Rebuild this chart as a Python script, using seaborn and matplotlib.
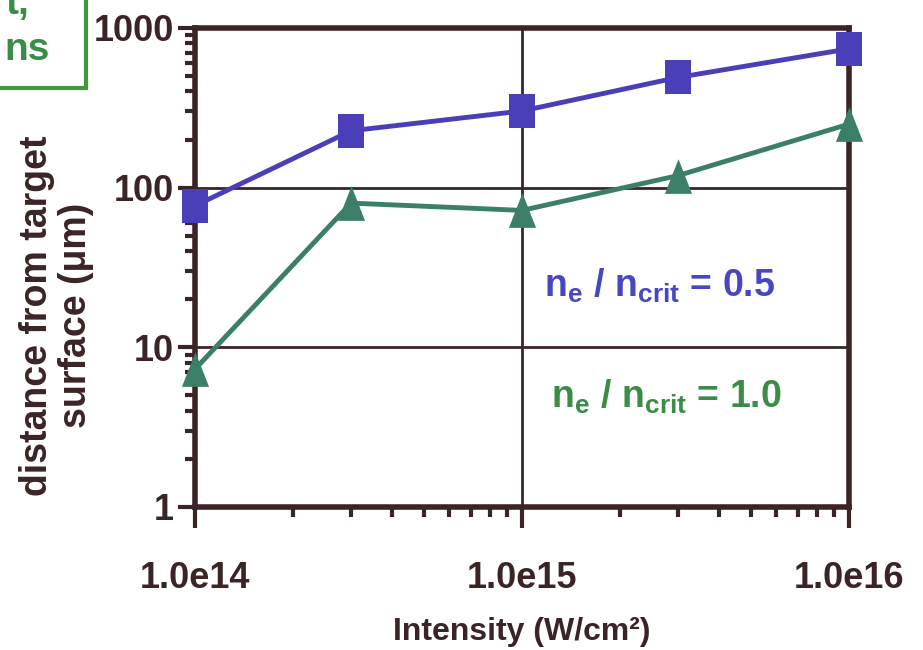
import matplotlib
matplotlib.use("Agg")
import matplotlib.pyplot as plt
import seaborn as sns
import pandas as pd
from matplotlib.patches import Rectangle
from matplotlib.path import Path
from matplotlib.ticker import LogLocator, FixedLocator, NullFormatter

intensity = [1e14, 3e14, 1e15, 3e15, 1e16]
dist_half = [77, 227, 302, 490, 740]
dist_one = [7.3, 80, 72, 119, 250]
series_names = ["ne/ncrit=0.5", "ne/ncrit=1.0"]
x_ticks = [1e14, 1e15, 1e16]
x_ticklabels = ["1.0e14", "1.0e15", "1.0e16"]
y_ticks = [1, 10, 100, 1000]
y_ticklabels = ["1", "10", "100", "1000"]

sns.set_style("white")
plt.rcParams["font.family"] = ["Liberation Sans", "DejaVu Sans"]
plt.rcParams["font.weight"] = "bold"
plt.rcParams["mathtext.fontset"] = "custom"
plt.rcParams["mathtext.rm"] = "Liberation Sans:bold"
plt.rcParams["mathtext.bf"] = "Liberation Sans:bold"
plt.rcParams["mathtext.it"] = "Liberation Sans:bold"

DARK = "#3b2426"
BLUE = "#4a3fb8"
GREEN = "#3b7f68"
TGREEN = "#3a8c46"
TBLUE = "#4747c4"

# tall marker shapes (the reference marks are taller than wide)
tall_square = Path([(-0.37, -0.5), (0.37, -0.5), (0.37, 0.5), (-0.37, 0.5), (-0.37, -0.5)],
                   [Path.MOVETO, Path.LINETO, Path.LINETO, Path.LINETO, Path.CLOSEPOLY])
tall_triangle = Path([(-0.39, -0.5), (0.39, -0.5), (0.0, 0.5), (-0.39, -0.5)],
                     [Path.MOVETO, Path.LINETO, Path.LINETO, Path.CLOSEPOLY])

df = pd.DataFrame({
    "x": intensity * 2,
    "y": dist_half + dist_one,
    "s": [series_names[0]] * len(intensity) + [series_names[1]] * len(intensity),
})

fig = plt.figure(figsize=(9.23, 6.5), dpi=100)
ax = fig.add_axes([0.2113, 0.22, 0.7085, 0.737])

sns.lineplot(data=df, x="x", y="y", hue="s", style="s",
             palette={series_names[0]: BLUE, series_names[1]: GREEN},
             markers={series_names[0]: tall_square, series_names[1]: tall_triangle},
             dashes=False, markersize=25, linewidth=3.5, markeredgewidth=0,
             legend=False, ax=ax, clip_on=False, zorder=5)

ax.set_xscale("log")
ax.set_yscale("log")
ax.set_xlim(1e14, 1e16)
ax.set_ylim(1, 1000)

ax.xaxis.set_major_locator(FixedLocator(x_ticks))
ax.set_xticklabels(x_ticklabels)
ax.yaxis.set_major_locator(FixedLocator(y_ticks))
ax.set_yticklabels(y_ticklabels)
ax.xaxis.set_minor_locator(LogLocator(base=10, subs=range(2, 10)))
ax.yaxis.set_minor_locator(LogLocator(base=10, subs=range(2, 10)))
ax.xaxis.set_minor_formatter(NullFormatter())
ax.yaxis.set_minor_formatter(NullFormatter())

ax.tick_params(axis="x", which="both", bottom=True, top=False)
ax.tick_params(axis="y", which="both", left=True, right=False)
ax.tick_params(axis="x", which="major", direction="out", length=15, width=3,
               color=DARK, labelsize=26, labelcolor=DARK, pad=24)
ax.tick_params(axis="x", which="minor", direction="out", length=7, width=3, color=DARK)
ax.tick_params(axis="y", which="major", direction="out", length=12, width=3,
               color=DARK, labelsize=26, labelcolor=DARK, pad=3)
ax.tick_params(axis="y", which="minor", direction="out", length=7, width=3, color=DARK)

for lab in ax.get_xticklabels() + ax.get_yticklabels():
    lab.set_fontweight("bold")

for sp in ax.spines.values():
    sp.set_visible(True)
    sp.set_color(DARK)
    sp.set_linewidth(4)

ax.grid(False)
ax.grid(True, which="major", color=DARK, linewidth=2)
ax.set_axisbelow(True)

ax.set_xlabel("Intensity (W/cm\u00b2)", fontsize=23, fontweight="bold", color=DARK, labelpad=15)
ax.set_ylabel("distance from target\nsurface (\u03bcm)", fontsize=27, fontweight="bold",
              color=DARK, linespacing=1.1)
ax.yaxis.set_label_coords(-0.155, 0.40)

ax.text(0.534, 0.462, r"$\mathbf{n_e}$ / $\mathbf{n_{crit}}$ = 0.5", transform=ax.transAxes,
        fontsize=27, fontweight="bold", color=TBLUE, ha="left", va="center")
ax.text(0.545, 0.23, r"$\mathbf{n_e}$ / $\mathbf{n_{crit}}$ = 1.0", transform=ax.transAxes,
        fontsize=27, fontweight="bold", color=TGREEN, ha="left", va="center")

# cropped green box at the top left
fig.patches.append(Rectangle((-0.01, 1 - 88 / 650), 0.01 + 86 / 923, 88 / 650 + 0.01,
                             transform=fig.transFigure, fill=False,
                             edgecolor="#3c9a3c", linewidth=3))
fig.text(6 / 923, 1 - 4 / 650, "t,", fontsize=28, fontweight="bold", color=TGREEN,
         ha="left", va="center")
fig.text(4 / 923, 1 - 50 / 650, "ns", fontsize=28, fontweight="bold", color=TGREEN,
         ha="left", va="center")

fig.savefig("out.png", dpi=100)
